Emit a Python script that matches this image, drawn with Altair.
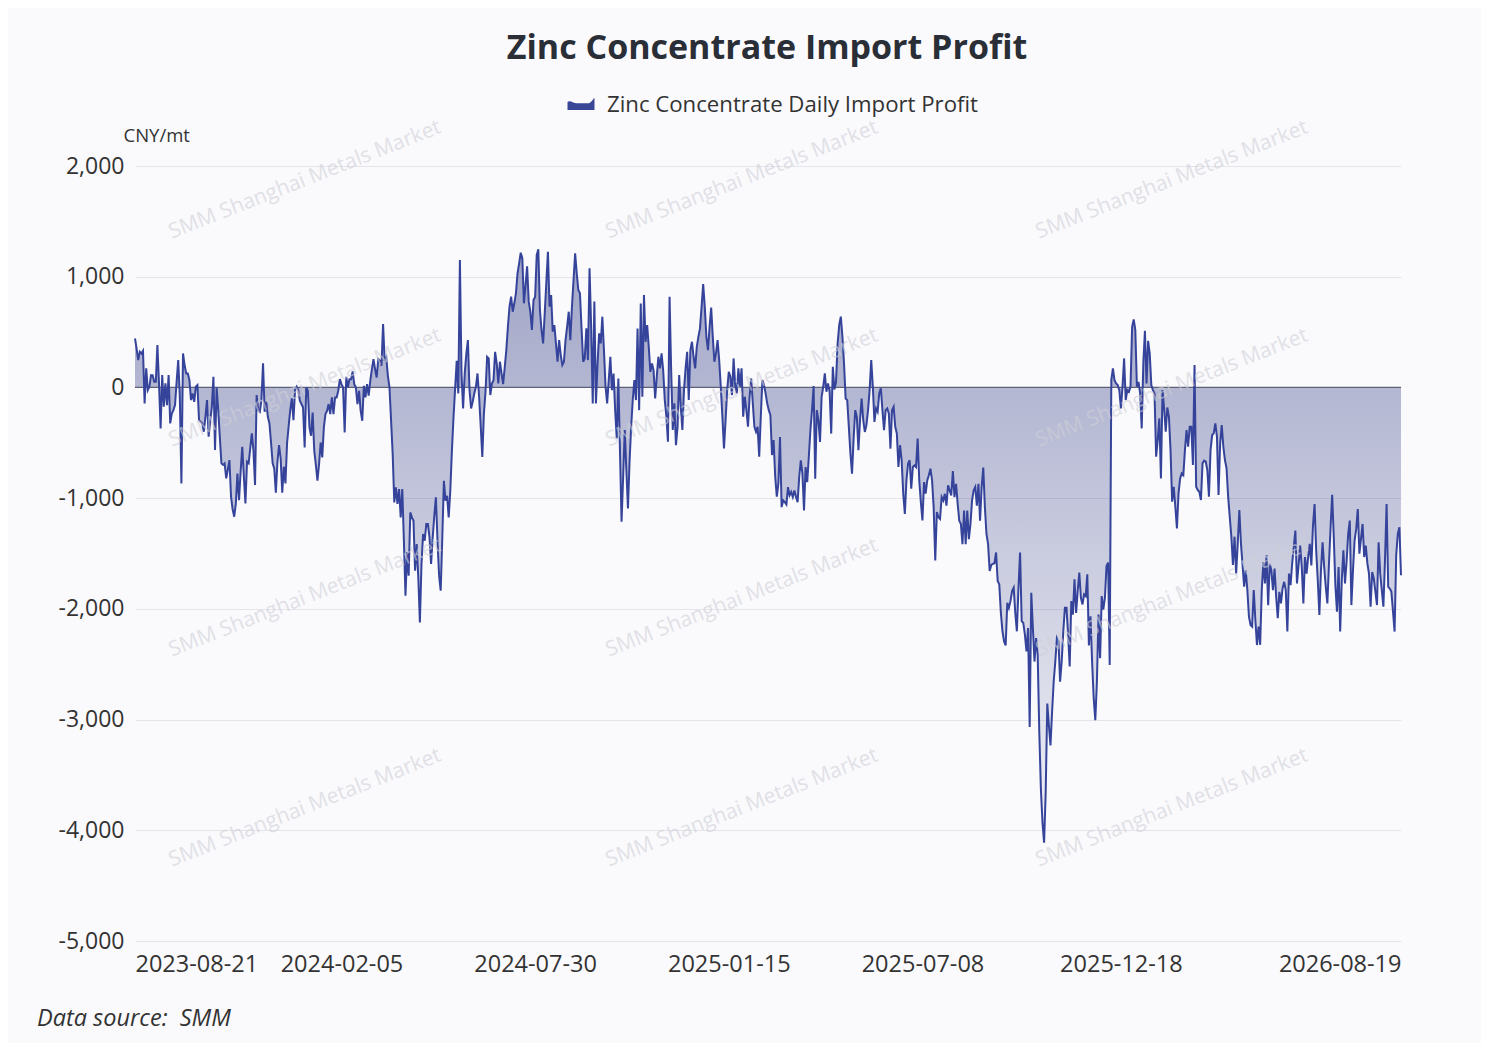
import altair as alt
import pandas as pd

# ---------------- data (CNY/mt) ----------------
profit_part1 = [442, 350, 247, 322, 307, 331, -144, 172, -24, 6,
                111, 111, 51, 51, 382, 36, -370, 111, -175, 36,
                -160, 111, -325, -235, -205, -160, 50, 247, -84, -867,
                307, 200, 126, 126, 66, -114, -54, -130, 6, 21,
                -295, -310, -325, -400, -265, -114, -445, -300, -175, 96,
                -566, 0, -205, -450, -686, -700, -686, -822, -740, -656,
                -987, -1100, -1168, -1048, -777, -1018, -762, -536, -800, -1048,
                -671, -686, -551, -415, -566, -882, -69, -205, -220, -114,
                217, -220, -130, -265, -325, -500, -686, -731, -951, -671,
                -521, -641, -951, -716, -867, -506, -350, -205, -99, -295,
                -24, 6, -24]
profit_part2 = [-120, -150, -181, -542, 0, -30, -361, -436, -226, -572,
                -700, -843, -692, -497, -632, -361, -241, -211, -150, -241,
                -90, -241, -90, -90, -30, 75, 30, 0, -406, 96,
                0, 75, 75, 144, 30, 0, -150, -30, -211, -301,
                15, -90, 30, -75, 60, 166, 256, 166, 90, 256,
                241, 196, 572, 241, 271, 105, 0, -300, -602, -1038,
                -903, -1053, -918, -1174, -918, -1385, -1881, -1490, -1700, -1129,
                -1174, -1204, -1656, -1415, -1716, -2122, -1595, -1324, -1385, -1234,
                -1234, -1355, -1595, -1355, -1159, -993, -1385, -1700, -1836, -1355,
                -843, -1023, -978, -1174, -933, -572, -271, -15, 241]
profit_part3 = [-54, 1150, 126, -190, 126, 300, 427, -24, -190, -129,
                -54, 6, 126, -84, -350, -627, -235, -39, 277, 262,
                -69, 36, 66, 322, 217, 36, 232, 130, 30, 180,
                337, 550, 729, 820, 684, 760, 850, 1031, 1120, 1217,
                1168, 760, 920, 1093, 775, 684, 519, 790, 820, 1196,
                1247, 699, 519, 398, 669, 950, 1226, 729, 835, 504,
                564, 400, 232, 427, 292, 202, 232, 427, 550, 684,
                427, 729, 970, 1211, 1031, 880, 850, 534, 232, 262,
                534, 247, 1076, 549, -144, 775, -144, 217, 489, 398,
                639, 337, 6, -144, 66, 277, -24, 126]
profit_part4 = [-205, -460, 81, -566, -1213, -807, -385, -746, -1093, -671,
                -355, -114, 66, -114, 533, -205, 759, -84, 834, 412,
                563, 367, 141, 217, 156, -99, 96, 277, 172, 307,
                156, -114, -265, -491, 819, 156, -385, -144, -521, -355,
                111, -175, -385, -24, 172, 322, -114, 337,
                412, 277, 172, 367, 457, 533, 728, 933,
                728, 457, 337, 548, 722, 457, 232, 307, 427, 247,
                6, -265, -551, -295, -24, 141, 96, -69, 262,
                21, -54, 172, 6, 172, -265, -84, -205, -355, -84,
                81, -144, -355, -400, -355, -626, -265, 66, 21, -54,
                -144, -205, -250, -611, -476, -807, -987, -867]
profit_part5 = [-447, -1081, -1021, -1036, -1057, -900, -975, -945,
                -990, -930, -990, -1036, -809, -658, -779, -1111, -719, -855,
                -628, -387, -205, 12, -824, -205, -296, -492, -85, 6,
                127, -39, 36, -39, -417, 187, -18, 51, 399,
                565, 640, 459, 217, -100, -115, -356, -598, -779, -462,
                -205, -266, -568, -296, -100, -296, -402, -341, -205, -24,
                248, 6, -311, -190, -220, -54, -9, -205, -387, -205,
                -190, -236, -553, -205, -175, -356, -417, -719, -522,
                -658, -960, -1142, -840, -689, -658, -915, -719, -704, -719,
                -462, -840, -1036, -1202, -855, -960, -840, -794, -734, -840,
                -1081, -1564, -1126, -1172]
profit_part6 = [-1188, -991, -1021, -961, -1067, -885, -930, -976, -755, -991,
                -870, -1052, -1203, -1233, -1415, -1112, -1415, -1112, -1370, -1233,
                -1021, -930, -900, -1067, -870, -1203, -900, -724, -1082, -1324,
                -1415, -1658, -1603, -1594, -1588, -1491, -1748, -1779, -2036,
                -2203, -2294, -2330, -1945, -1991, -1930, -1839, -1809, -2036, -2203,
                -1809, -1491, -2112, -2127, -2233, -2385, -2173, -3067, -1854, -2173,
                -2476, -2264, -2415, -3112, -3627, -3930, -4112, -3658, -2855, -3052,
                -3233, -2930, -2658, -2476, -2264, -2294, -2658, -2476, -2203, -1991,
                -1991, -2233, -2521, -1930, -2052, -1733, -2036, -1839, -1673, -1900,
                -1960, -1870, -1885, -1688, -2330, -2067, -2476, -2809, -3006,
                -2658, -2052, -2445, -1885, -2006, -1900, -1612, -1582, -2506]
profit_part7 = [66, 172, 66, 36, 21, -24, -190, 6, 262,
                -114, -24, -39, 6, 548, 614, 518, 6, 51,
                -54, -370, 217, 512, 36, 421, 307, 21, -24, -54,
                -626, -476, -280, -822, -24, -190, -400, -181, -265, -566,
                -1032, -897, -1078, -1273, -957, -822, -777, -792, -566,
                -385, -536, -355, -355, -701, 202, -897, -927, -942, -1017,
                -686, -662, -671, -746, -987, -566, -430, -415, -325, -445,
                -972, -506, -340, -536, -656, -731, -987, -1168, -1348, -1604,
                -1348, -1680, -1409, -1108, -1409, -1604, -1800, -1650, -1830, -2071,
                -2146, -2161, -1830, -2100, -2327, -2161]
profit_part8 = [-2325, -1831, -1577, -1771, -1517, -1966, -1592, -1652, -1831, -1637,
                -1891, -2085, -1846, -1951, -1816, -1756, -1831, -2205, -1682,
                -1786, -1592, -1442, -1293, -1771, -1607, -1428, -1622, -1951, -1532,
                -1682, -1532, -1413, -1607, -1248, -1054, -1472, -1741, -2055,
                -1652, -1398, -1622, -1801, -1951, -1592, -1263, -970, -1353, -1786,
                -2025, -1622, -2205, -1741, -1472, -1771, -1577, -1323, -1203,
                -1966, -1652, -1383, -1278, -1099, -1502, -1368, -1233, -1532,
                -1428, -1592, -1682, -1981, -1667, -1726, -1846, -1966,
                -1398, -1682, -1831, -1981, -1562, -1054, -1801, -1816, -1846,
                -2025, -2205, -1517, -1323, -1263, -1697]

profit = (profit_part1 + profit_part2 + profit_part3 + profit_part4 +
          profit_part5 + profit_part6 + profit_part7 + profit_part8)
N = len(profit)

date_labels = ["2023-08-21", "2024-02-05", "2024-07-30", "2025-01-15",
               "2025-07-08", "2025-12-18", "2026-08-19"]
date_positions = [0, 129, 250, 371, 492, 616, N - 1]   # index of the labelled day
y_ticks = [-5000, -4000, -3000, -2000, -1000, 0, 1000, 2000]
y_tick_labels = ["-5,000", "-4,000", "-3,000", "-2,000", "-1,000", "0", "1,000", "2,000"]

title_text = "Zinc Concentrate Import Profit"
series_name = "Zinc Concentrate Daily Import Profit"
unit_text = "CNY/mt"
source_text = "Data source:\u00a0 SMM"
watermark_text = "SMM Shanghai Metals Market"

df = pd.DataFrame({"i": list(range(N)), "v": profit})

# --------------- styling ----------------
FONT = "Open Sans"
W, H = 1266, 775
LINE_C = "#35449a"


def chain_expr(keys, labels):
    expr = "''"
    for k, lab in reversed(list(zip(keys, labels))):
        expr = f"datum.value == {k} ? '{lab}' : {expr}"
    return expr


x_enc = alt.X("i:Q",
              scale=alt.Scale(domain=[0, N - 1], nice=False, zero=False),
              axis=alt.Axis(values=date_positions,
                            labelExpr=chain_expr(date_positions, date_labels),
                            labelFlush=True, grid=False, domain=False,
                            ticks=False, labelFontSize=23.5, labelPadding=11,
                            labelColor="#333333", labelFont=FONT, title=None))
y_scale = alt.Scale(domain=[-5000, 2000], nice=False, zero=False)
y_axis = alt.Axis(values=y_ticks, labelExpr=chain_expr(y_ticks, y_tick_labels),
                  grid=True, gridColor="#e4e4ea",
                  gridWidth=1, domain=False, ticks=False, labelFontSize=23,
                  labelPadding=11, labelColor="#333333", labelFont=FONT,
                  title=unit_text, titleAngle=0, titleX=-12, titleY=-31,
                  titleAlign="left", titleBaseline="middle", titleFontSize=18.5,
                  titleFontWeight="normal", titleColor="#333333", titleFont=FONT)
y_enc = alt.Y("v:Q", scale=y_scale, axis=y_axis)

gradient = alt.Gradient(
    gradient="linear", x1=0, y1=0, x2=0, y2=1,
    stops=[alt.GradientStop(color="rgba(62,72,140,0.48)", offset=0),
           alt.GradientStop(color="rgba(62,72,140,0.05)", offset=1)])

base = alt.Chart(df)
area = base.mark_area(color=gradient, line=False).encode(
    x=x_enc, y=y_enc, y2=alt.datum(0))

zero_rule = alt.Chart(pd.DataFrame({"v": [0]})).mark_rule(
    color="#5d6277", strokeWidth=1.3).encode(y=alt.Y("v:Q", scale=y_scale, axis=y_axis))

line = base.mark_line(color=LINE_C, strokeWidth=2).encode(x=x_enc, y=y_enc)

# watermarks (layout grid)
wm_cols = [170, 607, 1037]
wm_rows = [14, 222, 432, 642]
one = pd.DataFrame({"t": [watermark_text]})
watermarks = []
for cx in wm_cols:
    for cy in wm_rows:
        watermarks.append(
            alt.Chart(one).mark_text(angle=338.5, fontSize=21, font=FONT,
                                     color="#cfd0d8", opacity=0.6,
                                     align="center", baseline="middle")
            .encode(text="t:N", x=alt.value(cx), y=alt.value(cy)))

title_mark = alt.Chart(pd.DataFrame({"t": [title_text]})).mark_text(
    fontSize=34, fontWeight="bold", font=FONT, color="#2a2e36",
    align="center", baseline="middle").encode(
    text="t:N", x=alt.value(632), y=alt.value(-117))

legend_shape = ("M-1,-0.15 C-0.8,-0.3 -0.6,-0.05 -0.3,-0.05 L0.5,-0.05 "
                "C0.75,-0.05 0.85,-0.35 1,-0.45 L1,0.45 L-1,0.45 Z")
legend_symbol = alt.Chart(pd.DataFrame({"t": [series_name]})).mark_point(
    shape=legend_shape, filled=True, size=729, color="#3a4797", opacity=1).encode(
    x=alt.value(446), y=alt.value(-62))
legend_text = alt.Chart(pd.DataFrame({"t": [series_name]})).mark_text(
    fontSize=22.2, font=FONT, color="#333333", align="left",
    baseline="middle").encode(text="t:N", x=alt.value(472), y=alt.value(-61))

source_mark = alt.Chart(pd.DataFrame({"t": [source_text]})).mark_text(
    fontSize=23.5, font=FONT, fontStyle="italic", color="#333333",
    align="left", baseline="middle").encode(
    text="t:N", x=alt.value(-98), y=alt.value(853))

chart = alt.layer(area, zero_rule, line, *watermarks, title_mark,
                  legend_symbol, legend_text, source_mark).properties(
    width=W, height=H,
    autosize=alt.AutoSizeParams(type="none"),
    padding={"left": 127, "top": 158, "right": 80, "bottom": 102},
    background="#fafafc",
).configure_view(stroke=None)

chart.save("out.html", embed_options={"renderer": "svg", "actions": False})
